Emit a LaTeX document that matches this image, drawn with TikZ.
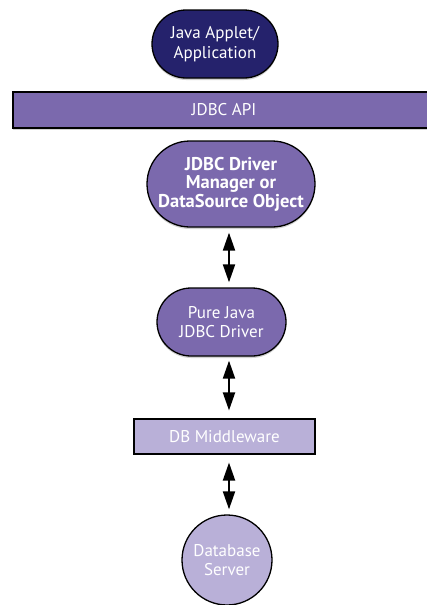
\documentclass[tikz,border=0pt]{standalone}
\usepackage{fontspec}
\setmainfont{PT Sans}
\usetikzlibrary{arrows.meta,shadows}
\definecolor{navy}{HTML}{25226C}
\definecolor{midpurple}{HTML}{7B69AD}
\definecolor{lightpurple}{HTML}{B9B0D8}

\begin{document}
\begin{tikzpicture}[x=1pt, y=-1pt,
	label text/.style={text=white, align=center, font=\fontsize{17}{19.5}\selectfont},
	stadium/.style={label text, draw=black, line width=1.3pt, rectangle, inner sep=0pt, drop shadow={shadow xshift=0pt, shadow yshift=-2pt, fill=gray!70}},
	layerbar/.style={label text, draw=black, line width=1.1pt, rectangle, inner sep=0pt},
	dblarrow/.style={line width=2pt, {Triangle[width=12pt,length=18pt]}-{Triangle[width=12pt,length=18pt]}}]
	\useasboundingbox (0, 0) rectangle (426, 605);
	% Nodes:
	\node[stadium, fill=navy, minimum width=126pt, minimum height=68pt, rounded corners=34pt](app) at (215, 44){Java Applet/\\Application};
	\node[layerbar, fill=midpurple, minimum width=420pt, minimum height=36pt, drop shadow={shadow xshift=0pt, shadow yshift=-2pt, fill=gray!70}](api) at (223, 110){};
	\node[label text] at (224, 110){JDBC API};
	\node[stadium, fill=midpurple, minimum width=168pt, minimum height=86pt, rounded corners=43pt, font=\bfseries\fontsize{18.5}{18.5}\selectfont](mgr) at (231, 184){JDBC Driver\\Manager or\\DataSource Object};
	\node[stadium, fill=midpurple, minimum width=129pt, minimum height=68pt, rounded corners=34pt](drv) at (221.5, 322){Pure Java\\JDBC Driver};
	\node[layerbar, fill=lightpurple, minimum width=181pt, minimum height=35pt](mid) at (224.5, 436.5){DB Middleware};
	\node[label text, circle, draw=black, line width=1.3pt, fill=lightpurple, minimum size=90pt, inner sep=0pt](db) at (227, 560){Database\\Server};
	% Arrows:
	\coordinate (axis) at (229, 0);
	\draw[dblarrow, shorten <=5pt, shorten >=5pt] (mgr.south -| axis) -- (drv.north -| axis);
	\draw[dblarrow, shorten <=4pt, shorten >=8pt] (drv.south -| axis) -- (mid.north -| axis);
	\draw[dblarrow, shorten <=8pt, shorten >=5pt] (mid.south -| axis) -- (db.north -| axis);
\end{tikzpicture}
\end{document}
